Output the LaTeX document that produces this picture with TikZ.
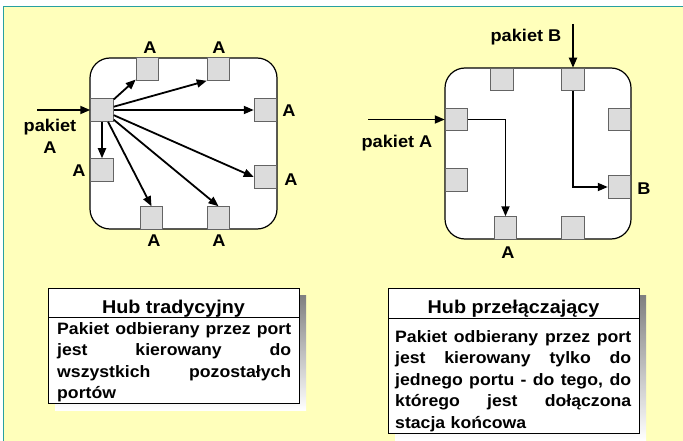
\documentclass[tikz,border=0pt]{standalone}
\usepackage{fontspec}
\setmainfont[FakeStretch=1.07]{Liberation Sans}
\usetikzlibrary{arrows.meta}

\definecolor{paper}{RGB}{255,255,187}
\definecolor{rulecol}{RGB}{40,160,160}
\definecolor{portfill}{RGB}{220,220,220}
\definecolor{portline}{RGB}{100,100,100}
\definecolor{shade}{RGB}{180,180,180}

% a fully justified line of given width (spaces get their natural stretch back)
\newcommand{\jline}[2]{\makebox[#1][s]{\spaceskip=0pt\xspaceskip=0pt #2}}

\begin{document}
\begin{tikzpicture}[x=1pt,y=-1pt,
  port/.style={draw=portline,fill=portfill,line width=1pt,minimum size=22.5pt,inner sep=0pt},
  hub/.style={draw=black,fill=white,line width=1.2pt,rounded corners=20pt,inner sep=0pt},
  flow/.style={line width=1.8pt,-{Triangle[length=10pt,width=8pt]}},
  lbl/.style={font=\bfseries\fontsize{17}{22}\selectfont,inner sep=0pt},
  card/.style={draw=black,fill=white,line width=1pt,inner sep=0pt},
  ttl/.style={font=\bfseries\fontsize{18.5}{22}\selectfont,inner sep=0pt},
  body/.style={font=\bfseries\fontsize{16.5}{21.5}\selectfont,inner sep=0pt,align=left},
]
% page and frame
\useasboundingbox (0,0) rectangle (683,441);
\fill[white] (0,0) rectangle (683,441);
\fill[paper] (3.5,6.5) rectangle (683,441);
\draw[rulecol,line width=1.8pt] (3.5,441) -- (3.5,6.5) -- (683,6.5);

% ---------- traditional hub ----------
\node[hub,minimum width=187pt,minimum height=171pt] (hubL) at (183.5,143.5) {};
\node[port] (lt1) at (147.5,69) {};
\node[port] (lt2) at (218.5,69) {};
\node[port] (lin) at (102,110) {};
\node[port] (ll2) at (102,170) {};
\node[port] (lr1) at (265.5,110) {};
\node[port] (lr2) at (265.5,177) {};
\node[port] (lb1) at (151.5,218) {};
\node[port] (lb2) at (218.5,218) {};

\coordinate (inL) at (37,110);
\draw[flow] (inL) -- (lin);
\draw[flow] (lin) -- (lt1);
\draw[flow] (lin) -- (lt2.south west);
\draw[flow] (lin) -- (lr1);
\draw[flow] (lin) -- (ll2);
\draw[flow] (lin) -- (lb1.north);
\draw[flow] (lin) -- (lb2.north);
\draw[flow] (lin) -- (lr2.west);

\node[lbl,align=center] (pktL) at (50,136) {pakiet\\A};
\node[lbl] (aL1) at (150,48) {A};
\node[lbl] (aL2) at (219,48) {A};
\node[lbl] (aL3) at (289,111) {A};
\node[lbl] (aL4) at (291,180) {A};
\node[lbl] (aL5) at (79,171) {A};
\node[lbl] (aL6) at (154,241) {A};
\node[lbl] (aL7) at (219,241) {A};

% ---------- switching hub ----------
\node[hub,minimum width=186pt,minimum height=171pt] (hubR) at (538,153.5) {};
\node[port] (rt1) at (502,79.5) {};
\node[port] (rt2) at (573,79.5) {};
\node[port] (rl1) at (456.5,119.5) {};
\node[port] (rl2) at (456.5,180) {};
\node[port] (rr1) at (619.5,119.5) {};
\node[port] (rr2) at (619.5,187) {};
\node[port] (rb1) at (505.5,228) {};
\node[port] (rb2) at (573,228) {};

\coordinate (inA) at (368,119.5);
\coordinate (inB) at (573,24);
\draw[flow] (inA) -- (rl1);
\draw[flow] (inB) -- (rt2);
\draw[flow] (rl1.east) -| (rb1);
\draw[flow] (rt2) |- (rr2);

\node[lbl] (pktB) at (526,37) {pakiet B};
\node[lbl] (pktA) at (397,143) {pakiet A};
\node[lbl] (bR) at (644,189) {B};
\node[lbl] (aR) at (508,253) {A};

% ---------- description cards ----------
\fill[shade] (55,295) rectangle (306,410);
\node[card,anchor=north west,minimum width=251pt,minimum height=115pt] (cardL) at (48,288) {};
\draw[line width=1pt] (48,317) -- (299,317);
\node[ttl,anchor=base] (ttlL) at (173.5,313) {Hub tradycyjny};
\node[body,anchor=north west,text width=234pt] (txtL) at (57,322) {%
  \jline{234pt}{Pakiet odbierany przez port}\\
  \jline{234pt}{jest kierowany do}\\
  \jline{234pt}{wszystkich pozostałych}\\
  portów};

\fill[shade] (395,295) rectangle (646,440);
\node[card,anchor=north west,minimum width=251pt,minimum height=145pt] (cardR) at (388,288) {};
\draw[line width=1pt] (388,318) -- (639,318);
\node[ttl,anchor=base] (ttlR) at (513.5,313) {Hub przełączający};
\node[body,anchor=north west,text width=236pt] (txtR) at (395,330) {%
  \jline{236pt}{Pakiet odbierany przez port}\\
  \jline{236pt}{jest kierowany tylko do}\\
  \jline{236pt}{jednego portu - do tego, do}\\
  \jline{236pt}{którego jest dołączona}\\
  stacja końcowa};
\end{tikzpicture}
\end{document}
